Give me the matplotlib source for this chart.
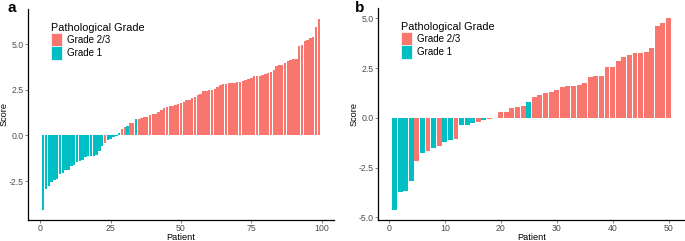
import numpy as np
import matplotlib
matplotlib.use('Agg')
import matplotlib.pyplot as plt
from matplotlib.patches import Patch

plt.rcParams['font.family'] = ['Liberation Sans', 'DejaVu Sans']

# Panel a scores (sorted) and grade per patient: T = Grade 1, R = Grade 2/3
scores_a = [-4.11, -2.92, -2.79, -2.55, -2.46, -2.37, -2.10, -2.05, -1.92, -1.87,
            -1.65, -1.60, -1.47, -1.40, -1.32, -1.20, -1.14, -1.10, -1.10, -1.07,
            -0.83, -0.56, -0.40, -0.25, -0.18, -0.10, -0.03, 0.12, 0.36, 0.49,
            0.50, 0.67, 0.67, 0.89, 0.92, 0.94, 1.00, 1.03, 1.10, 1.16,
            1.20, 1.30, 1.41, 1.48, 1.58, 1.60, 1.61, 1.67, 1.74, 1.79,
            1.81, 1.94, 1.97, 2.03, 2.10, 2.23, 2.26, 2.43, 2.46, 2.52,
            2.52, 2.55, 2.66, 2.79, 2.81, 2.83, 2.86, 2.88, 2.90, 2.92,
            2.95, 2.99, 3.03, 3.10, 3.17, 3.24, 3.26, 3.26, 3.32, 3.37,
            3.42, 3.50, 3.60, 3.79, 3.84, 3.86, 3.97, 4.09, 4.13, 4.18,
            4.22, 4.93, 4.95, 5.20, 5.24, 5.36, 5.42, 5.96, 6.41]
grade_a = 'T' * 22 + 'R' + 'T' * 5 + 'RR' + 'T' + 'RR' + 'T' + 'R' * 65

# Panel b
scores_b = [-4.65, -3.75, -3.68, -3.20, -2.17, -1.77, -1.67, -1.50, -1.40, -1.22,
            -1.13, -1.05, -0.38, -0.37, -0.27, -0.23, -0.13, -0.04, -0.03, 0.27,
            0.28, 0.50, 0.52, 0.57, 0.78, 1.05, 1.15, 1.25, 1.30, 1.42,
            1.55, 1.58, 1.62, 1.67, 1.73, 2.07, 2.08, 2.12, 2.57, 2.57,
            2.85, 3.03, 3.15, 3.23, 3.25, 3.32, 3.50, 4.62, 4.77, 5.03]
grade_b = 'TTTTRTRTRTTRTTTRT' + 'RRRRRRR' + 'T' + 'R' * 25

RED = '#F8766D'
TEAL = '#00BFC4'
cmap = {'R': RED, 'T': TEAL}

fig = plt.figure(figsize=(6.85, 2.41), dpi=100)
W, H = 685, 241


def panel(rect, scores, grades, yticks, xticks, label, lab_x):
    l, t, r, b = rect
    ax = fig.add_axes([l / W, 1 - b / H, (r - l) / W, (b - t) / H])
    n = len(scores)
    x = np.arange(1, n + 1)
    ax.bar(x, scores, width=0.88, color=[cmap[g] for g in grades], linewidth=0)
    lo, hi = min(scores), max(scores)
    pad = 0.05 * (hi - lo)
    ax.set_ylim(lo - pad, hi + pad)
    xpad = 0.05 * (n - 0.1)
    ax.set_xlim(0.55 - xpad, n + 0.45 + xpad)
    ax.set_yticks(yticks)
    ax.set_yticklabels([f'{v:.1f}' for v in yticks])
    ax.set_xticks(xticks)
    ax.tick_params(labelsize=6.3, colors='#4D4D4D', length=2, width=0.5, pad=1)
    for s in ['top', 'right']:
        ax.spines[s].set_visible(False)
    for s in ['left', 'bottom']:
        ax.spines[s].set_linewidth(0.9)
    ax.set_xlabel('Patient', fontsize=6.6, labelpad=0)
    ax.set_ylabel('Score', fontsize=6.6, labelpad=0.5)
    handles = [Patch(facecolor=RED, edgecolor='white', linewidth=0.5, label='Grade 2/3'),
               Patch(facecolor=TEAL, edgecolor='white', linewidth=0.5, label='Grade 1')]
    leg = ax.legend(handles=handles, title='Pathological Grade', loc='upper left',
                    bbox_to_anchor=(0.075, 0.935), frameon=False, fontsize=7,
                    title_fontsize=7.8, handlelength=1.15, handleheight=1.75,
                    handletextpad=0.45, labelspacing=0.0, borderaxespad=0,
                    borderpad=0)
    leg._legend_box.align = 'left'
    fig.text(lab_x / W, 1 - 1 / H, label, fontsize=11, fontweight='bold',
             va='top', ha='left')
    return ax


panel((28, 9, 334, 220), scores_a, grade_a, [-2.5, 0.0, 2.5, 5.0],
      [0, 25, 50, 75, 100], 'a', 7)
panel((378, 8, 685, 220), scores_b, grade_b, [-5.0, -2.5, 0.0, 2.5, 5.0],
      [0, 10, 20, 30, 40, 50], 'b', 355)

fig.savefig('out.png', dpi=100)
